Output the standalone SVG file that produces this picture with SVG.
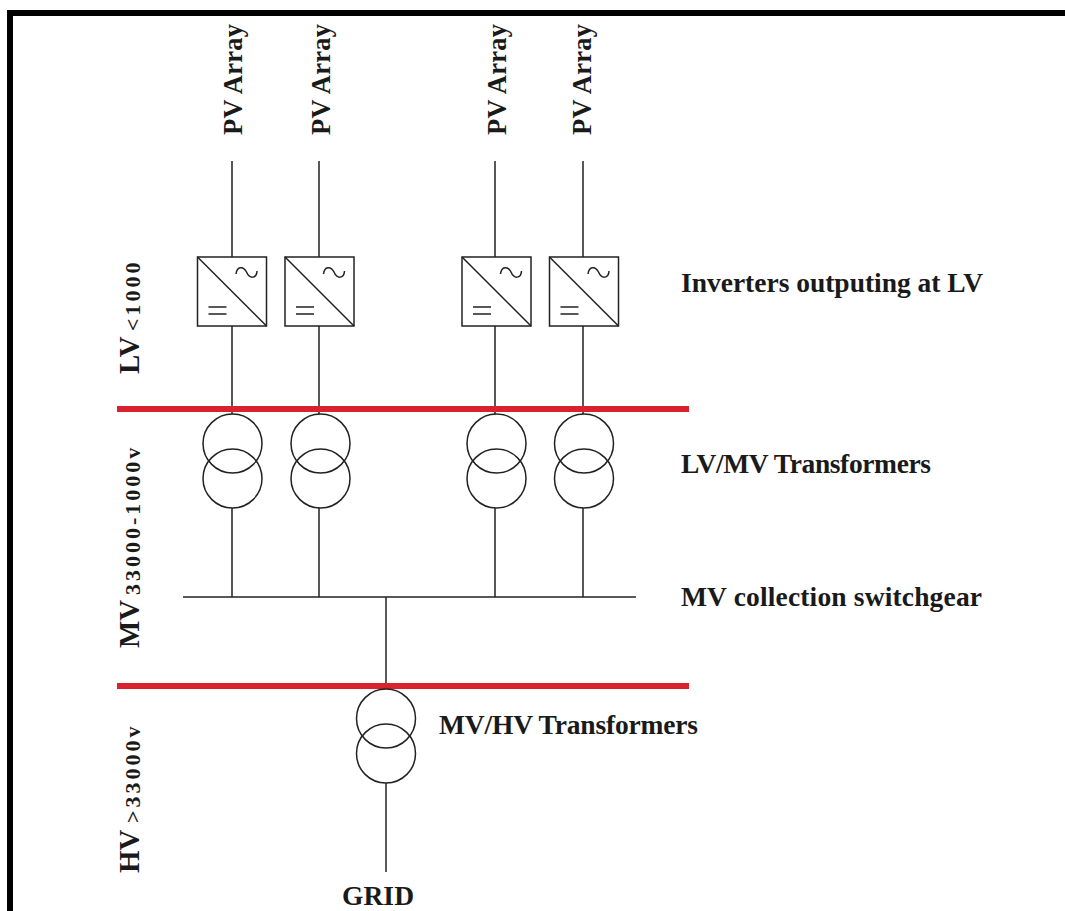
<svg xmlns="http://www.w3.org/2000/svg" width="1065" height="911" viewBox="0 0 1065 911">
<style>
.l{stroke:#222;stroke-width:1.5;fill:none}
.b{stroke:#d8232f;stroke-width:6;fill:none}
.t{font-family:"Liberation Serif",serif;font-size:27.500px;font-weight:bold;fill:#1a1a1a;stroke:none}
.p{font-size:26.500px}
.v{font-size:29px}
.s{font-size:22px;letter-spacing:3px}
.c{stroke:#222;stroke-width:1.5;fill:none}
</style>
<defs>
<g id="inv">
<rect class="l" x="0" y="0" width="69" height="69"/>
<path class="l" d="M0 0L69 69M11 50H29M11 57H29"/>
<path class="l" d="M38.500 17C39.500 9 46 9 49 15C52 22 59 22 59.500 14"/>
</g>
<g id="tr">
<circle class="c" cx="0" cy="0" r="29.500"/>
<circle class="c" cx="0" cy="35" r="29.500"/>
</g>
</defs>
<rect id="frame" x="10" y="13" width="1070" height="920" fill="#fff" stroke="#000" stroke-width="6"/>
<g id="connectors">
<path class="l" d="M232 161V257M232 326V414M319 161V257M319 326V414M495 161V257M495 326V414M583 161V257M583 326V414"/>
<path class="l" d="M232 508V597M319 508V597M495 508V597M583 508V597"/>
<path class="l" d="M183 597H636M386 597V689M386 783V872"/>
</g>
<g id="buses">
<path class="b" d="M117 409H689"/>
<path class="b" d="M117 686H689"/>
</g>
<g id="inverter-1"><use href="#inv" x="197.500" y="257"/></g>
<g id="inverter-2"><use href="#inv" x="285" y="257"/></g>
<g id="inverter-3"><use href="#inv" x="462" y="257"/></g>
<g id="inverter-4"><use href="#inv" x="549.500" y="257"/></g>
<g id="transformer-1"><use href="#tr" x="232.500" y="443.500"/></g>
<g id="transformer-2"><use href="#tr" x="320.500" y="443.500"/></g>
<g id="transformer-3"><use href="#tr" x="496.500" y="443.500"/></g>
<g id="transformer-4"><use href="#tr" x="584" y="443.500"/></g>
<g id="transformer-5"><use href="#tr" x="386" y="718.500"/></g>
<g id="pv-1"><text class="t p" textLength="111" transform="translate(242 135) rotate(-90)">PV Array</text></g>
<g id="pv-2"><text class="t p" textLength="111" transform="translate(330 135) rotate(-90)">PV Array</text></g>
<g id="pv-3"><text class="t p" textLength="111" transform="translate(506 135) rotate(-90)">PV Array</text></g>
<g id="pv-4"><text class="t p" textLength="111" transform="translate(591 135) rotate(-90)">PV Array</text></g>
<g id="lv"><text class="t v" transform="translate(139 374) rotate(-90)">LV</text><text class="t s" transform="translate(140 331) rotate(-90)">&lt;1000</text></g>
<g id="mv"><text class="t v" transform="translate(139 648) rotate(-90)">MV</text><text class="t s" transform="translate(140 595) rotate(-90)">33000-1000v</text></g>
<g id="hv"><text class="t v" transform="translate(139 873) rotate(-90)">HV</text><text class="t s" transform="translate(140 823) rotate(-90)">&gt;33000v</text></g>
<g id="label-inverters"><text class="t" x="681" y="292" textLength="302">Inverters outputing at LV</text></g>
<g id="label-lvmv"><text class="t" x="681" y="473" textLength="250">LV/MV Transformers</text></g>
<g id="label-mv"><text class="t" x="681" y="606" textLength="301">MV collection switchgear</text></g>
<g id="label-mvhv"><text class="t" x="439" y="734" textLength="259">MV/HV Transformers</text></g>
<g id="label-grid"><text class="t" x="342" y="905" textLength="72">GRID</text></g>
</svg>
